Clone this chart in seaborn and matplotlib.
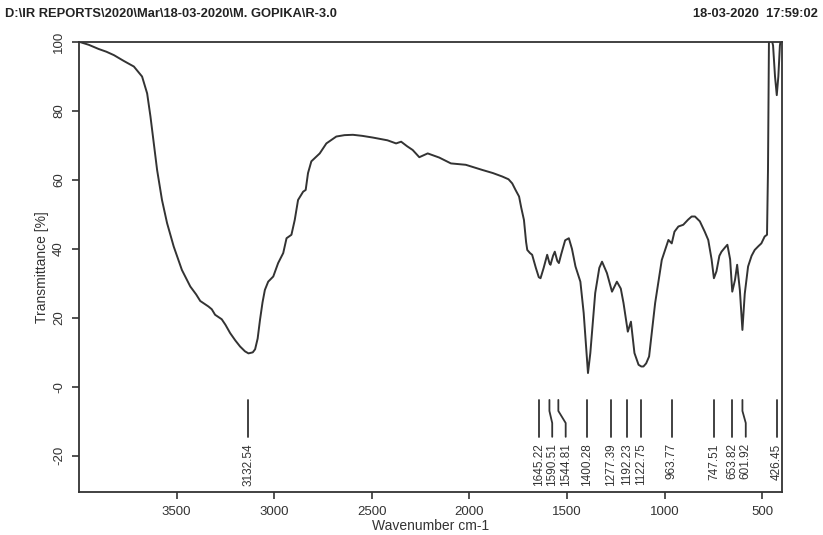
import numpy as np
import pandas as pd
import seaborn as sns
import matplotlib.pyplot as plt

# spectrum (wavenumber cm-1, transmittance %), matching rows
wavenumber = [3995, 3950, 3900, 3860, 3821, 3770, 3719, 3677, 3651, 3634,
              3617, 3600, 3575, 3549, 3515, 3473, 3430, 3400, 3379, 3337,
              3320, 3303, 3269, 3250, 3226, 3200, 3175, 3150, 3132, 3124,
              3110, 3098, 3085, 3073, 3060, 3048, 3031, 3005, 2980, 2954,
              2937, 2912, 2895, 2878, 2852, 2839, 2827, 2810, 2767, 2733,
              2682, 2640, 2597, 2550, 2495, 2420, 2376, 2350, 2320, 2291,
              2257, 2214, 2155, 2095, 2019, 1934, 1880, 1832, 1800, 1781,
              1764, 1746, 1735, 1721, 1710, 1704, 1690, 1679, 1660, 1645,
              1636, 1620, 1602, 1590, 1585, 1572, 1563, 1550, 1542,
              1530, 1510, 1491, 1475, 1457, 1432, 1415, 1398, 1393, 1381,
              1356, 1335, 1321, 1296, 1270, 1245, 1225, 1211, 1189, 1173,
              1155, 1134, 1120, 1109, 1095, 1080, 1049, 1015, 981, 964,
              950, 930, 905, 880, 862, 845, 820, 795, 777, 760,
              748, 735, 720, 709, 690, 679, 665, 654, 640, 629,
              615, 602, 590, 573, 555, 539, 520, 505, 488, 476,
              471, 466, 455, 445, 435, 426, 418, 410, 403, 400]
transmittance = [100.0, 99.2, 98.0, 97.2, 96.2, 94.5, 92.9, 90.0, 85.1, 78.4,
                 70.6, 62.9, 54.2, 47.5, 40.7, 33.9, 29.1, 26.8, 24.9, 23.3,
                 22.5, 20.9, 19.6, 18.0, 15.6, 13.5, 11.7, 10.3, 9.7, 9.8,
                 10.0, 10.9, 14.0, 19.4, 24.5, 28.1, 30.5, 32.0, 35.9, 38.8,
                 43.1, 44.1, 48.4, 54.2, 56.6, 57.1, 62.0, 65.4, 67.7, 70.6,
                 72.6, 73.0, 73.1, 72.8, 72.3, 71.5, 70.6, 71.1, 69.8, 68.7,
                 66.6, 67.7, 66.5, 64.8, 64.4, 62.9, 62.0, 61.0, 60.2, 59.0,
                 57.1, 55.2, 52.0, 48.4, 42.0, 39.7, 38.8, 38.3, 34.5, 31.8,
                 31.5, 34.5, 38.3, 35.8, 35.4, 38.0, 39.2, 36.5, 35.9,
                 38.5, 42.5, 43.1, 40.0, 34.9, 30.5, 21.4, 7.8, 4.0, 9.8,
                 27.2, 34.5, 36.3, 33.0, 27.6, 30.5, 28.5, 24.3, 16.0, 18.9,
                 9.8, 6.4, 5.9, 5.9, 6.8, 8.8, 24.3, 36.8, 42.6, 41.6,
                 45.0, 46.5, 47.0, 48.5, 49.4, 49.4, 48.0, 45.0, 42.6, 37.0,
                 31.5, 33.5, 38.0, 39.2, 40.5, 41.2, 37.0, 27.6, 31.0, 35.4,
                 28.0, 16.5, 27.0, 34.9, 38.0, 39.7, 40.8, 41.6, 43.6, 44.1,
                 62.9, 101.0, 101.5, 99.0, 90.0, 84.6, 90.0, 99.0, 101.5, 101.0]

peaks = [3132.54, 1645.22, 1590.51, 1544.81, 1400.28, 1277.39, 1192.23, 1122.75,
         963.77, 747.51, 653.82, 601.92, 426.45]

yticks = [100, 80, 60, 40, 20, 0, -20]
ytick_labels = ['100', '80', '60', '40', '20', '-0', '-20']
xticks = [3500, 3000, 2500, 2000, 1500, 1000, 500]

ink = '#333333'

sns.set_style('ticks')
plt.rcParams['font.family'] = ['Liberation Sans', 'DejaVu Sans']

df = pd.DataFrame({'wn': wavenumber, 'T': transmittance})

fig = plt.figure(figsize=(8.23, 5.35), dpi=100)
ax = fig.add_axes([0.096, 0.0804, 0.854, 0.841])

sns.lineplot(data=df, x='wn', y='T', ax=ax, color=ink, linewidth=1.4,
             estimator=None, sort=False)

ax.set_xlim(4000, 400)
ax.set_ylim(-30.5, 100)

# peak markers: spread the labels so they don't collide, bend the line if moved
min_gap = 69
label_pos = []
for p in peaks:
    if label_pos and label_pos[-1] - p < min_gap:
        label_pos.append(label_pos[-1] - min_gap)
    else:
        label_pos.append(p)

for p, lp in zip(peaks, label_pos):
    if abs(p - lp) < 1:
        ax.plot([p, p], [-3.8, -14.5], color=ink, linewidth=1.3)
    else:
        ax.plot([p, p, lp, lp], [-3.8, -7.0, -10.5, -14.5], color=ink, linewidth=1.3)
    ax.text(lp, -16.4, f'{p:.2f}', rotation=90, ha='center', va='top',
            fontsize=8.5, color=ink)

ax.set_xticks(xticks)
ax.set_xticklabels([str(t) for t in xticks], fontsize=9.5, color=ink)
ax.set_yticks(yticks)
ax.set_yticklabels(ytick_labels, fontsize=9.5, color=ink, rotation=90, va='center')
ax.tick_params(axis='both', length=5, width=1.2, color=ink)
ax.tick_params(axis='x', pad=5)
ax.tick_params(axis='y', pad=5)

for s in ax.spines.values():
    s.set_color(ink)
    s.set_linewidth(1.3)

ax.set_xlabel('Wavenumber cm-1', fontsize=10, color=ink, labelpad=1)
ax.set_ylabel('Transmittance [%]', fontsize=10, color=ink, labelpad=3)

fig.text(0.006, 0.974, 'D:\\IR REPORTS\\2020\\Mar\\18-03-2020\\M. GOPIKA\\R-3.0',
         fontsize=9.3, fontweight='bold', color='#222222', ha='left', va='center')
fig.text(0.994, 0.974, '18-03-2020  17:59:02', fontsize=9.3, fontweight='bold',
         color='#222222', ha='right', va='center')

fig.savefig('out.png', dpi=100)
